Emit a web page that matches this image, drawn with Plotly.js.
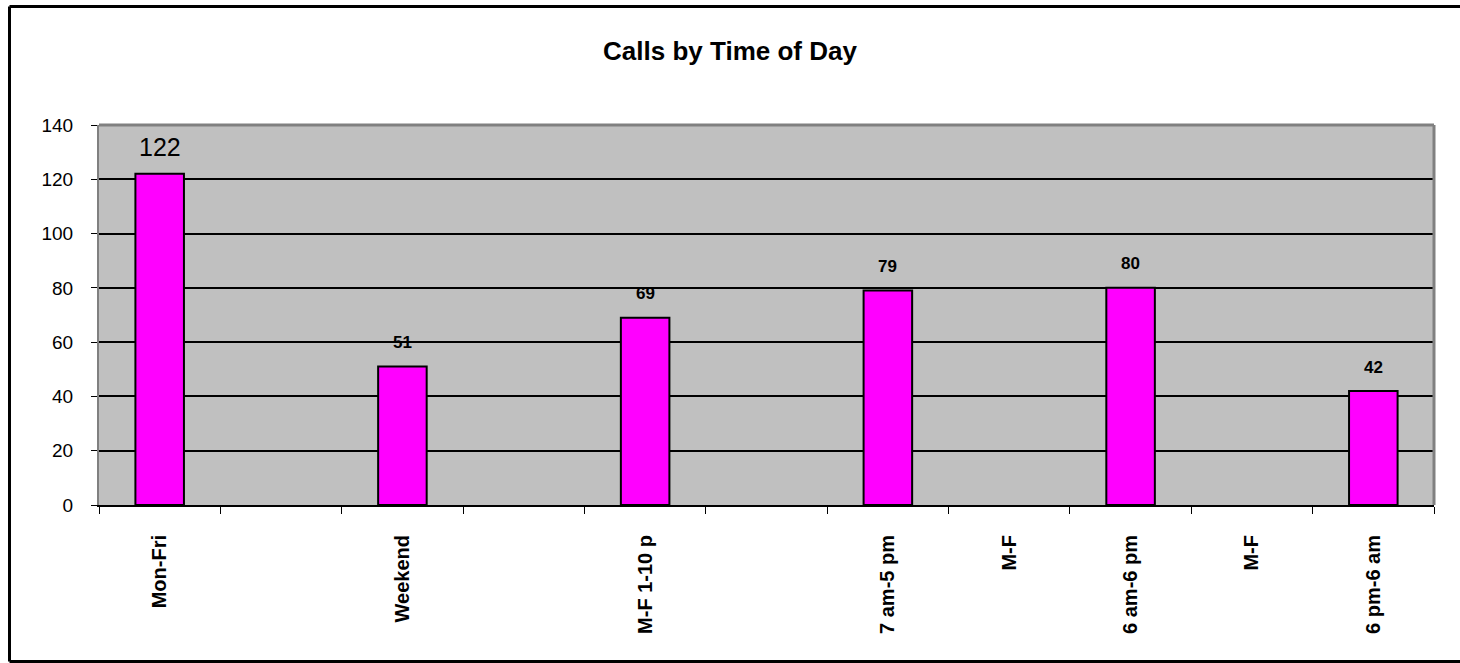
<!DOCTYPE html>
<html>
<head>
<meta charset="utf-8">
<script src="https://cdn.plot.ly/plotly-3.0.1.min.js"></script>
<style>
html,body{margin:0;padding:0;background:#fff;overflow:hidden;}
#chart{width:1460px;height:663px;}
</style>
</head>
<body>
<div id="chart"></div>
<script>
var categoryLabels = ["Mon-Fri", "", "Weekend", "", "M-F 1-10 p", "", "7 am-5 pm", "M-F", "6 am-6 pm", "M-F", "6 pm-6 am"];
var callValues = [122, null, 51, null, 69, null, 79, null, 80, null, 42];
var yTicks = [0, 20, 40, 60, 80, 100, 120, 140];
var chartTitle = "Calls by Time of Day";

var positions = categoryLabels.map(function (_, i) { return i; });
var boundaries = [];
for (var i = 0; i <= categoryLabels.length; i++) boundaries.push(i - 0.5);

var FONT = "Liberation Sans, Arial, sans-serif";

var trace = {
  type: "bar",
  x: positions,
  y: callValues,
  width: 0.4,
  marker: { color: "#FF00FF", line: { color: "#000000", width: 2 } },
  hoverinfo: "none"
};

var annotations = [];
positions.forEach(function (p, i) {
  var v = callValues[i];
  if (v === null) return;
  var big = (i === 0);
  annotations.push({
    x: p, y: v, xref: "x", yref: "y",
    text: String(v), showarrow: false,
    yanchor: "middle", yshift: big ? 27 : 24,
    font: { family: FONT, size: big ? 25 : 17, color: "#000", weight: big ? "normal" : "bold" }
  });
});

var fx0 = (9.5 - 99) / 1335, fx1 = 1.2;
var fy0 = (505 - 661.5) / 380, fy1 = (505 - 6.5) / 380;

var layout = {
  width: 1460, height: 663,
  margin: { l: 99, r: 26, t: 125, b: 158 },
  paper_bgcolor: "#ffffff",
  plot_bgcolor: "#C0C0C0",
  showlegend: false,
  title: {
    text: "<b>" + chartTitle + "</b>",
    x: 0.5, xref: "container", xanchor: "center",
    y: 1 - 51 / 663, yref: "container", yanchor: "middle",
    font: { family: FONT, size: 26, color: "#000" }
  },
  xaxis: {
    range: [-0.5, categoryLabels.length - 0.5],
    tickmode: "array",
    tickvals: positions,
    ticktext: categoryLabels.map(function (t) { return "<b>" + t + "</b>"; }),
    tickangle: -90,
    ticks: "",
    ticklabelstandoff: 20,
    tickfont: { family: FONT, size: 20, color: "#000" },
    showgrid: false,
    zeroline: false,
    showline: true, linecolor: "#000", linewidth: 2,
    minor: { tickmode: "array", tickvals: boundaries, ticks: "outside", ticklen: 7, tickwidth: 1, tickcolor: "#000", showgrid: false },
    fixedrange: true
  },
  yaxis: {
    range: [0, 140],
    tickmode: "array",
    tickvals: yTicks,
    ticktext: yTicks.map(String),
    ticks: "outside", ticklen: 6, tickwidth: 1, tickcolor: "#000",
    ticklabelstandoff: 14,
    tickfont: { family: FONT, size: 19, color: "#000" },
    showgrid: true, gridcolor: "#000", gridwidth: 2,
    zeroline: false,
    showline: true, linecolor: "#808080", linewidth: 2,
    fixedrange: true
  },
  annotations: annotations,
  shapes: [
    { type: "line", xref: "paper", yref: "paper", x0: 0, x1: 1, y0: 1, y1: 1, line: { color: "#808080", width: 3 }, layer: "above" },
    { type: "line", xref: "paper", yref: "paper", x0: 1, x1: 1, y0: 0, y1: 1, line: { color: "#808080", width: 3 }, layer: "above" },
    { type: "line", xref: "paper", yref: "paper", x0: fx0, x1: fx0, y0: fy0, y1: fy1, line: { color: "#000", width: 3 }, layer: "below" },
    { type: "line", xref: "paper", yref: "paper", x0: fx0, x1: fx1, y0: fy1, y1: fy1, line: { color: "#000", width: 3 }, layer: "below" },
    { type: "line", xref: "paper", yref: "paper", x0: fx0, x1: fx1, y0: fy0, y1: fy0, line: { color: "#000", width: 3 }, layer: "below" }
  ]
};

Plotly.newPlot("chart", [trace], layout, { displayModeBar: false, staticPlot: true });
</script>
</body>
</html>
